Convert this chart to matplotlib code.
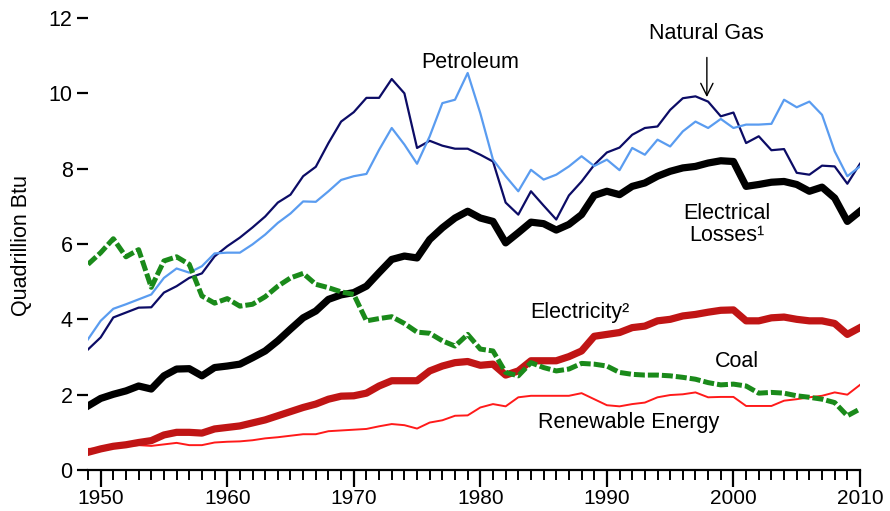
import matplotlib
matplotlib.use("Agg")
import matplotlib.pyplot as plt
import numpy as np

plt.rcParams['font.family'] = ['Liberation Sans', 'DejaVu Sans']

years = np.arange(1949, 2011)

natural_gas = [3.20, 3.52, 4.05, 4.18, 4.31, 4.32, 4.71, 4.88, 5.10, 5.22,
               5.67, 5.94, 6.17, 6.44, 6.73, 7.10, 7.31, 7.80, 8.05, 8.68,
               9.25, 9.50, 9.88, 9.88, 10.38, 10.00, 8.55, 8.74, 8.61, 8.53,
               8.53, 8.37, 8.19, 7.10, 6.78, 7.40, 7.02, 6.65, 7.29, 7.66,
               8.10, 8.43, 8.56, 8.90, 9.08, 9.12, 9.56, 9.87, 9.92, 9.78,
               9.39, 9.49, 8.68, 8.86, 8.49, 8.52, 7.89, 7.84, 8.08, 8.06,
               7.60, 8.13]

petroleum = [3.47, 3.96, 4.28, 4.40, 4.53, 4.66, 5.10, 5.35, 5.24, 5.41,
             5.75, 5.77, 5.77, 5.99, 6.25, 6.56, 6.81, 7.13, 7.12, 7.40,
             7.70, 7.80, 7.86, 8.50, 9.08, 8.64, 8.13, 8.86, 9.74, 9.83,
             10.54, 9.47, 8.24, 7.80, 7.40, 7.97, 7.71, 7.84, 8.06, 8.33,
             8.07, 8.24, 7.96, 8.55, 8.37, 8.77, 8.59, 8.99, 9.25, 9.08,
             9.32, 9.08, 9.17, 9.17, 9.19, 9.83, 9.63, 9.78, 9.43, 8.46,
             7.80, 8.06]

electrical_losses = [1.70, 1.90, 2.01, 2.10, 2.23, 2.15, 2.50, 2.68, 2.69, 2.50,
                     2.72, 2.76, 2.81, 2.98, 3.16, 3.43, 3.74, 4.04, 4.22, 4.53,
                     4.65, 4.71, 4.88, 5.24, 5.59, 5.68, 5.63, 6.12, 6.43, 6.69,
                     6.87, 6.69, 6.60, 6.03, 6.30, 6.58, 6.54, 6.37, 6.52, 6.78,
                     7.29, 7.40, 7.31, 7.53, 7.62, 7.80, 7.93, 8.02, 8.06, 8.15,
                     8.21, 8.19, 7.53, 7.58, 7.64, 7.66, 7.58, 7.40, 7.51, 7.22,
                     6.60, 6.87]

electricity = [0.47, 0.56, 0.63, 0.67, 0.73, 0.78, 0.93, 1.00, 1.00, 0.98,
               1.09, 1.13, 1.17, 1.25, 1.33, 1.44, 1.55, 1.66, 1.75, 1.88,
               1.96, 1.97, 2.04, 2.23, 2.37, 2.37, 2.37, 2.63, 2.76, 2.85,
               2.88, 2.78, 2.81, 2.52, 2.63, 2.90, 2.90, 2.90, 3.01, 3.16,
               3.55, 3.60, 3.65, 3.78, 3.82, 3.96, 4.00, 4.09, 4.13, 4.19,
               4.24, 4.25, 3.96, 3.96, 4.04, 4.06, 4.00, 3.96, 3.96, 3.89,
               3.60, 3.78]

coal = [5.46, 5.77, 6.14, 5.66, 5.85, 4.85, 5.55, 5.66, 5.46, 4.62,
        4.43, 4.55, 4.35, 4.40, 4.60, 4.88, 5.10, 5.22, 4.93, 4.84,
        4.73, 4.66, 3.96, 4.02, 4.07, 3.89, 3.66, 3.63, 3.43, 3.29,
        3.60, 3.21, 3.16, 2.59, 2.50, 2.85, 2.72, 2.63, 2.68, 2.83,
        2.81, 2.76, 2.59, 2.54, 2.52, 2.52, 2.50, 2.46, 2.41, 2.32,
        2.26, 2.28, 2.23, 2.04, 2.06, 2.04, 1.97, 1.93, 1.88, 1.79,
        1.44, 1.62]

renewable = [0.56, 0.57, 0.62, 0.64, 0.66, 0.64, 0.68, 0.72, 0.66, 0.66,
             0.73, 0.75, 0.76, 0.79, 0.84, 0.87, 0.91, 0.95, 0.95, 1.03,
             1.05, 1.07, 1.09, 1.16, 1.22, 1.19, 1.10, 1.26, 1.32, 1.44,
             1.45, 1.66, 1.75, 1.69, 1.93, 1.97, 1.97, 1.97, 1.97, 2.04,
             1.88, 1.72, 1.69, 1.75, 1.79, 1.93, 1.99, 2.01, 2.06, 1.93,
             1.94, 1.94, 1.70, 1.70, 1.70, 1.84, 1.88, 1.93, 1.97, 2.06,
             2.00, 2.26]

fig = plt.figure(figsize=(8.9, 5.11), dpi=100)
ax = fig.add_axes([88 / 890, 41 / 511, 772 / 890, 452 / 511])

ax.plot(years, renewable, color='#ff1a1a', lw=1.4, zorder=2)
ax.plot(years, electricity, color='#c01515', lw=5.2, zorder=3)
ax.plot(years, electrical_losses, color='black', lw=5.2, zorder=4)
ax.plot(years, natural_gas, color='#0c0c66', lw=1.6, zorder=5)
ax.plot(years, petroleum, color='#5a9cf0', lw=1.6, zorder=6)
ax.plot(years, coal, color='#1a8a1a', lw=3.6, dashes=(2.2, 0.6), zorder=7)

ax.set_xlim(1949, 2010)
ax.set_ylim(0, 12)
for s in ['top', 'right', 'left']:
    ax.spines[s].set_visible(False)
ax.spines['bottom'].set_linewidth(1.6)

fs = 15.5
ax.set_xticks(range(1950, 2011, 10))
ax.set_xticks(range(1949, 2011), minor=True)
ax.set_yticks(range(0, 13, 2))
ax.tick_params(axis='x', which='major', direction='out', length=12, width=1.6,
               labelsize=15, pad=1.5)
ax.tick_params(axis='x', which='minor', direction='out', length=7, width=1.4)
ax.tick_params(axis='y', direction='out', length=8, width=1.6, labelsize=fs, pad=3)

ax.text(1979.2, 10.83, 'Petroleum', fontsize=fs, ha='center', va='center')
ax.annotate('Natural Gas', xy=(1997.9, 9.9), xytext=(1997.9, 11.6),
            fontsize=fs, ha='center', va='center',
            arrowprops=dict(arrowstyle='->', color='black', lw=1.0,
                            mutation_scale=22, shrinkA=8, shrinkB=0))
ax.text(1999.5, 6.52, 'Electrical\nLosses\u00b9', fontsize=fs, ha='center',
        va='center', linespacing=1.1)
ax.text(1987.9, 4.19, 'Electricity\u00b2', fontsize=fs, ha='center', va='center')
ax.text(2000.3, 2.89, 'Coal', fontsize=fs, ha='center', va='center')
ax.text(1991.7, 1.25, 'Renewable Energy', fontsize=fs, ha='center', va='center')

fig.text(22 / 890, 1 - 245 / 511, 'Quadrillion Btu', rotation=90,
         fontsize=fs, ha='center', va='center')

fig.savefig('out.png', dpi=100)
